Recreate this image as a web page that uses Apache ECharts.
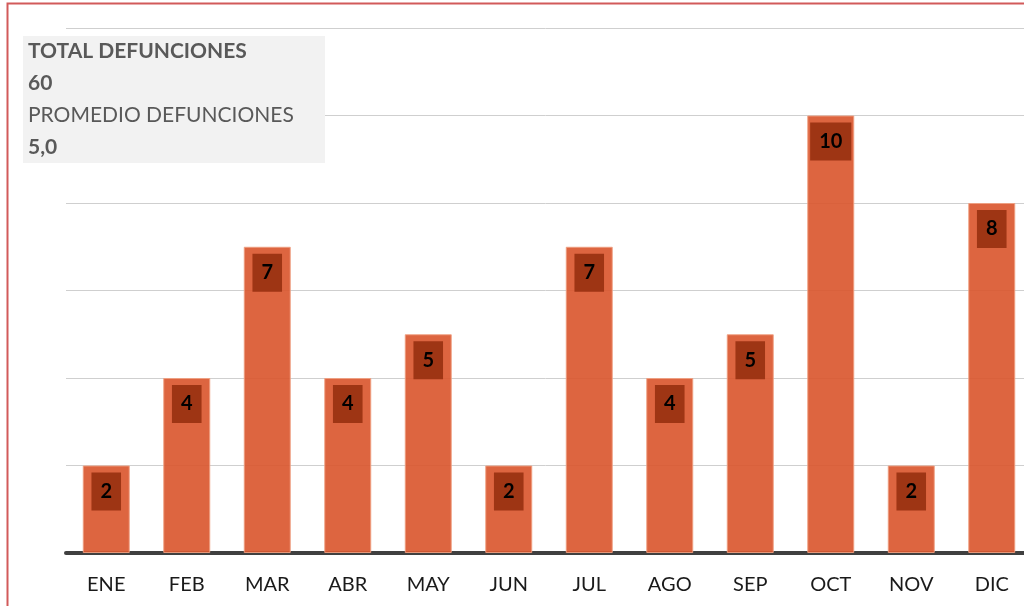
<!DOCTYPE html>
<html>
<head>
<meta charset="utf-8">
<script src="https://cdn.jsdelivr.net/npm/echarts@6/dist/echarts.min.js"></script>
<style>
html,body{margin:0;padding:0;background:#fff;}
#c{width:1024px;height:606px;}
</style>
</head>
<body>
<div id="c"></div>
<script>
const months = ['ENE','FEB','MAR','ABR','MAY','JUN','JUL','AGO','SEP','OCT','NOV','DIC'];
const deaths = [2,4,7,4,5,2,7,4,5,10,2,8];
const infoTitle1 = 'TOTAL DEFUNCIONES';
const infoTitle2 = 'PROMEDIO DEFUNCIONES';

const total = deaths.reduce((a,b)=>a+b,0);
const avg = (total/deaths.length).toFixed(1).replace('.', ',');
const FONT = 'Lato, "Open Sans", sans-serif';

const chart = echarts.init(document.getElementById('c'));
chart.setOption({
  animation:false,
  grid:{left:66, width:966, top:28, bottom:53, outerBoundsMode:'none', containLabel:false},
  xAxis:{
    type:'category', data:months,
    axisLine:{lineStyle:{color:'#404040', width:4}},
    axisTick:{show:false},
    axisLabel:{color:'#1a1a1a', fontSize:20, fontFamily:FONT, margin:22}
  },
  yAxis:{
    type:'value', min:0, max:12, interval:2,
    axisLabel:{show:false}, axisLine:{show:false}, axisTick:{show:false},
    splitLine:{lineStyle:{color:'#cfcfcf', width:1}}
  },
  series:[{
    type:'bar', data:deaths, barWidth:47,
    itemStyle:{color:'rgba(218,88,48,0.92)', borderColor:'rgba(240,160,130,0.9)', borderWidth:1},
    label:{
      show:true, position:'insideTop', distance:7,
      color:'#000', fontWeight:'bold', fontSize:20, fontFamily:FONT,
      backgroundColor:'#9e3514', padding:[8,9,8,9], lineHeight:22
    }
  }],
  graphic:[
    {type:'rect', left:5, top:1, shape:{width:1030, height:620}, style:{fill:'none', stroke:'#d25a5a', lineWidth:2}, z:100},
    {type:'rect', left:23, top:36, shape:{width:302, height:127}, style:{fill:'#f2f2f2'}, z:50},
    {type:'text', left:28, top:41, style:{text:infoTitle1, font:'bold 21px '+FONT, fill:'#595959'}, z:51},
    {type:'text', left:28, top:73, style:{text:String(total), font:'bold 21px '+FONT, fill:'#595959'}, z:51},
    {type:'text', left:28, top:105, style:{text:infoTitle2, font:'21px '+FONT, fill:'#595959'}, z:51},
    {type:'text', left:28, top:137, style:{text:avg, font:'bold 21px '+FONT, fill:'#595959'}, z:51}
  ]
});
</script>
</body>
</html>
